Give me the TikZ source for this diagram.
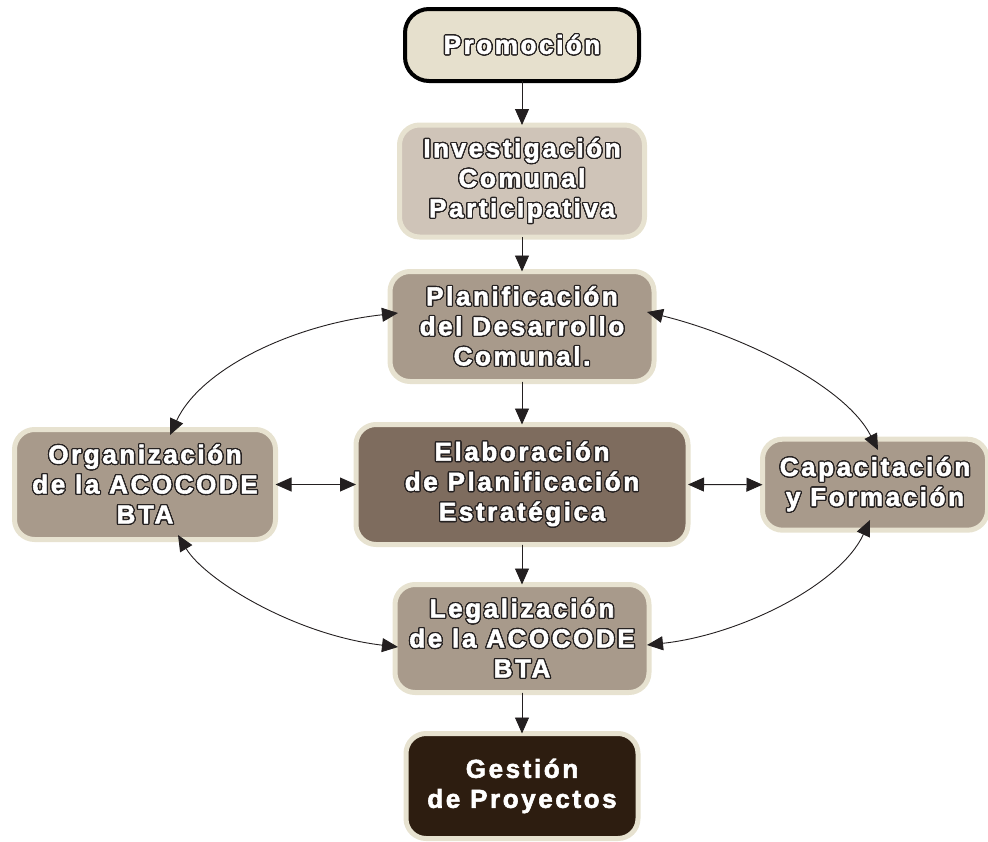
\documentclass[tikz,border=0pt]{standalone}
\usepackage{fontspec}
\usepackage{contour}
\usetikzlibrary{arrows.meta,calc}
\newfontfamily\boxfont[LetterSpace=10, BoldFeatures={FakeBold=2.2}]{Liberation Sans}
\definecolor{edgec}{HTML}{E7E2D0}
\definecolor{promofill}{HTML}{E6E0CD}
\definecolor{invfill}{HTML}{CFC4B8}
\definecolor{midfill}{HTML}{A89A8B}
\definecolor{elabfill}{HTML}{7E6C5E}
\definecolor{gestfill}{HTML}{2D1D10}
\definecolor{arrowc}{HTML}{231F20}
\definecolor{txtline}{HTML}{262222}
\contourlength{1.2pt}
\contournumber{24}
\newcommand\ol[1]{\contour{txtline}{#1}}
\tikzset{
  box/.style={rounded corners=20pt, draw=edgec, line width=5pt, align=center,
    text=white, font=\boxfont\bfseries\fontsize{26}{30}\selectfont,
    inner sep=0pt, outer sep=0pt},
  tipA/.tip={Triangle[length=16pt,width=14pt]},
  arr/.style={-tipA, line width=0.9pt, draw=arrowc, fill=arrowc},
  darr/.style={tipA-tipA, line width=0.9pt, draw=arrowc}
}
\begin{document}
\begin{tikzpicture}[x=1pt,y=-1pt]
\useasboundingbox (0,0) rectangle (988,841);
% nodes
\node[box, draw=black, line width=4pt, rounded corners=24pt, fill=promofill,
      minimum width=234pt, minimum height=72pt] (promo) at (522,45) {\ol{Promoción}};
\node[box, fill=invfill, minimum width=245pt, minimum height=112pt] (inv) at (522,181)
  {\ol{Investigación}\\\ol{Comunal}\\\ol{Participativa}};
\node[box, fill=midfill, minimum width=264pt, minimum height=110pt] (plan) at (522,326.5)
  {\ol{Planificación}\\\ol{del Desarrollo}\\\ol{Comunal.}};
\node[box, fill=elabfill, minimum width=332pt, minimum height=120pt] (elab) at (522,484.5)
  {\ol{Elaboración}\\\ol{de Planificación}\\\ol{Estratégica}};
\node[box, fill=midfill, minimum width=261pt, minimum height=110pt] (org) at (145,484.5)
  {\ol{Organización}\\\ol{de la ACOCODE}\\\ol{BTA}};
\node[box, fill=midfill, minimum width=225pt, minimum height=91pt] (cap) at (875,484.7)
  {\ol{Capacitación}\\\ol{y Formación}};
\node[box, fill=midfill, minimum width=254pt, minimum height=108pt] (leg) at (522,638.5)
  {\ol{Legalización}\\\ol{de la ACOCODE}\\\ol{BTA}};
\node[box, fill=gestfill, minimum width=232pt, minimum height=105pt] (gest) at (522,786)
  {Gestión\\de Proyectos};
% curve end points
\coordinate (orgT)  at ($(org.center)+(25,-49.5)$);
\coordinate (orgB)  at ($(org.center)+(33,50.5)$);
\coordinate (planL) at ($(plan.center)+(-124,-13.5)$);
\coordinate (planR) at ($(plan.center)+(125,-14.5)$);
\coordinate (capT)  at ($(cap.center)+(3,-34.7)$);
\coordinate (capB)  at ($(cap.center)+(-5,35.3)$);
\coordinate (legL)  at ($(leg.center)+(-124,8.5)$);
\coordinate (legR)  at ($(leg.center)+(125,6.5)$);
% vertical arrows
\draw[arr] (promo.south) -- (inv.north);
\draw[arr] (inv.south) -- (plan.north);
\draw[arr] (plan.south) -- (elab.north);
\draw[arr] (elab.south) -- (leg.north);
\draw[arr] (leg.south) -- (gest.north);
% horizontal double arrows
\draw[darr] (org.east) -- (elab.west);
\draw[darr] (elab.east) -- (cap.west);
% curved double arrows
\draw[darr] (orgT) .. controls +(30,-65) and +(-108,12) .. (planL);
\draw[darr] (orgB) .. controls +(27,45) and +(-103,-12) .. (legL);
\draw[darr] (planR) .. controls +(93,23) and +(-33,-65) .. (capT);
\draw[darr] (capB) .. controls +(-30,65) and +(93,-10) .. (legR);
\end{tikzpicture}
\end{document}
